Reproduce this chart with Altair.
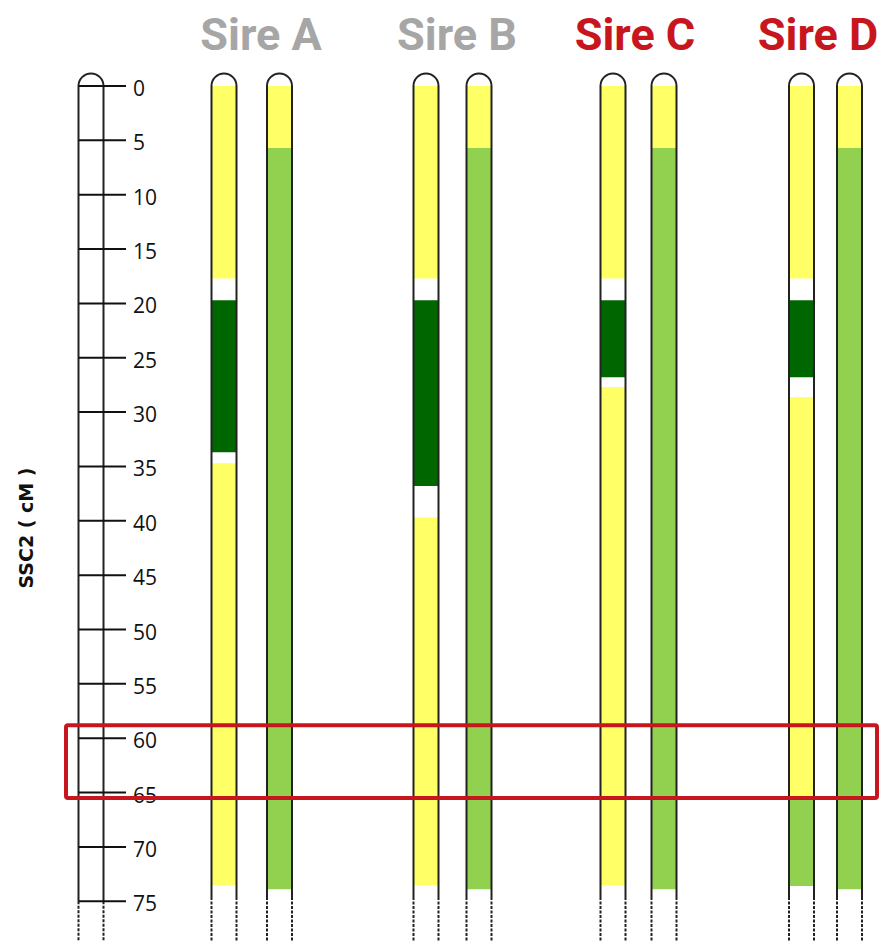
import altair as alt
import pandas as pd

# ---------------- data ----------------
sire_names = ["Sire A", "Sire B", "Sire C", "Sire D"]
sire_title_colors = ["#A6A6A6", "#A6A6A6", "#C8161E", "#C8161E"]

tick_values = [0, 5, 10, 15, 20, 25, 30, 35, 40, 45, 50, 55, 60, 65, 70, 75]

# breakpoints (cM) and state of each interval; "gap" = white
sire_a_hap1_breaks = [0, 17.7, 19.7, 33.7, 34.7, 73.5]
sire_a_hap1_states = ["yellow", "gap", "dark", "gap", "yellow"]
sire_a_hap2_breaks = [0, 5.7, 73.9]
sire_a_hap2_states = ["yellow", "green"]

sire_b_hap1_breaks = [0, 17.7, 19.7, 36.8, 39.7, 73.5]
sire_b_hap1_states = ["yellow", "gap", "dark", "gap", "yellow"]
sire_b_hap2_breaks = [0, 5.7, 73.9]
sire_b_hap2_states = ["yellow", "green"]

sire_c_hap1_breaks = [0, 17.7, 19.7, 26.8, 27.7, 73.5]
sire_c_hap1_states = ["yellow", "gap", "dark", "gap", "yellow"]
sire_c_hap2_breaks = [0, 5.7, 73.9]
sire_c_hap2_states = ["yellow", "green"]

sire_d_hap1_breaks = [0, 17.7, 19.7, 26.8, 28.6, 65.4, 73.6]
sire_d_hap1_states = ["yellow", "gap", "dark", "gap", "yellow", "green"]
sire_d_hap2_breaks = [0, 5.7, 73.9]
sire_d_hap2_states = ["yellow", "green"]

highlight_start = 58.8
highlight_end = 65.5

# ---------------- layout (page pixel positions) ----------------
chrom_x = {
    "A1": 224, "A2": 279.5,
    "B1": 426, "B2": 479,
    "C1": 613, "C2": 664,
    "D1": 801.5, "D2": 849.5,
}
title_x = [261, 457, 635, 818]
axis_x = 91
half_w = 12.5
solid_end = 74.6
dash_end = 79.5

chrom_data = {
    "A1": (sire_a_hap1_breaks, sire_a_hap1_states),
    "A2": (sire_a_hap2_breaks, sire_a_hap2_states),
    "B1": (sire_b_hap1_breaks, sire_b_hap1_states),
    "B2": (sire_b_hap2_breaks, sire_b_hap2_states),
    "C1": (sire_c_hap1_breaks, sire_c_hap1_states),
    "C2": (sire_c_hap2_breaks, sire_c_hap2_states),
    "D1": (sire_d_hap1_breaks, sire_d_hap1_states),
    "D2": (sire_d_hap2_breaks, sire_d_hap2_states),
}

seg_rows = []
for cid, (br, st) in chrom_data.items():
    cx = chrom_x[cid]
    for i, s in enumerate(st):
        if s == "gap":
            continue
        seg_rows.append({"chrom": cid, "x": cx - half_w, "x2": cx + half_w,
                         "start": br[i], "end": br[i + 1], "state": s})
seg_df = pd.DataFrame(seg_rows)

all_centers = list(chrom_x.values()) + [axis_x]
edge_rows = []
for cx in all_centers:
    end = 75 if cx == axis_x else solid_end
    for ex in (cx - half_w, cx + half_w):
        edge_rows.append({"x": ex, "y": 0, "y2": end, "kind": "solid"})
        edge_rows.append({"x": ex, "y": end, "y2": dash_end, "kind": "dash"})
edge_df = pd.DataFrame(edge_rows)

cap_df = pd.DataFrame({"x": all_centers, "y": [0] * len(all_centers)})

tick_df = pd.DataFrame({"cM": tick_values, "label": [str(t) for t in tick_values],
                        "x": [axis_x - half_w] * len(tick_values),
                        "x2": [126] * len(tick_values)})

title_df = pd.DataFrame({"name": sire_names, "color": sire_title_colors, "x": title_x})

box_df = pd.DataFrame({"x": [66], "x2": [877], "y": [highlight_start], "y2": [highlight_end]})

# ---------------- scales ----------------
xs = alt.Scale(domain=[8, 880], range=[0, 872], nice=False, zero=False)
ys = alt.Scale(domain=[0, 75], range=[78, 893.25], nice=False, zero=False)

segments = alt.Chart(seg_df).mark_rect(strokeWidth=0).encode(
    x=alt.X("x:Q", scale=xs, axis=None),
    x2="x2:Q",
    y=alt.Y("start:Q", scale=ys, axis=None),
    y2="end:Q",
    color=alt.Color("state:N", legend=None,
                    scale=alt.Scale(domain=["yellow", "green", "dark"],
                                    range=["#FFFF66", "#92D050", "#006600"])),
)

caps = alt.Chart(cap_df).mark_point(
    shape="M-1,0A1,1,0,0,1,1,0", size=625, filled=True, fill="white",
    fillOpacity=1, stroke="#222222", strokeWidth=2, opacity=1,
).encode(
    x=alt.X("x:Q", scale=xs, axis=None),
    y=alt.Y("y:Q", scale=ys, axis=None),
)

solid_edges = alt.Chart(edge_df).transform_filter(alt.datum.kind == "solid").mark_rule(
    color="#222222", strokeWidth=2
).encode(
    x=alt.X("x:Q", scale=xs, axis=None),
    y=alt.Y("y:Q", scale=ys, axis=None),
    y2="y2:Q",
)

dash_edges = alt.Chart(edge_df).transform_filter(alt.datum.kind == "dash").mark_rule(
    color="#222222", strokeWidth=2, strokeDash=[3, 1.5]
).encode(
    x=alt.X("x:Q", scale=xs, axis=None),
    y=alt.Y("y:Q", scale=ys, axis=None),
    y2="y2:Q",
)

ticks = alt.Chart(tick_df).mark_rule(color="#111111", strokeWidth=2).encode(
    x=alt.X("x:Q", scale=xs, axis=None),
    x2="x2:Q",
    y=alt.Y("cM:Q", scale=ys, axis=None),
)

labels = alt.Chart(tick_df).mark_text(
    align="left", baseline="middle", dy=4, font="Open Sans", fontSize=21, color="#111111"
).encode(
    x=alt.value(125),
    y=alt.Y("cM:Q", scale=ys, axis=None),
    text="label:N",
)

titles = alt.Chart(title_df).mark_text(
    align="center", baseline="alphabetic", font="Roboto", fontWeight="bold", fontSize=45
).encode(
    x=alt.X("x:Q", scale=xs, axis=None),
    y=alt.value(42),
    text="name:N",
    color=alt.Color("color:N", scale=None),
)

ylabel = alt.Chart(pd.DataFrame({"t": ["SSC2 ( cM )"]})).mark_text(
    angle=270, align="center", baseline="middle", font="DejaVu Sans",
    fontWeight="bold", fontSize=19, color="#111111"
).encode(
    x=alt.value(19),
    y=alt.value(520),
    text="t:N",
)

box = alt.Chart(box_df).mark_rect(
    fill=None, fillOpacity=0, stroke="#C8161E", strokeWidth=4, cornerRadius=2
).encode(
    x=alt.X("x:Q", scale=xs, axis=None),
    x2="x2:Q",
    y=alt.Y("y:Q", scale=ys, axis=None),
    y2="y2:Q",
)

chart = alt.layer(
    segments, caps, solid_edges, dash_edges, ticks, labels, titles, ylabel, box
).properties(
    width=872, height=933, autosize=alt.AutoSizeParams(type="none"), padding=0,
    background="white",
).configure_view(stroke=None)

chart.save("out.html", embed_options={"renderer": "svg", "actions": False})
